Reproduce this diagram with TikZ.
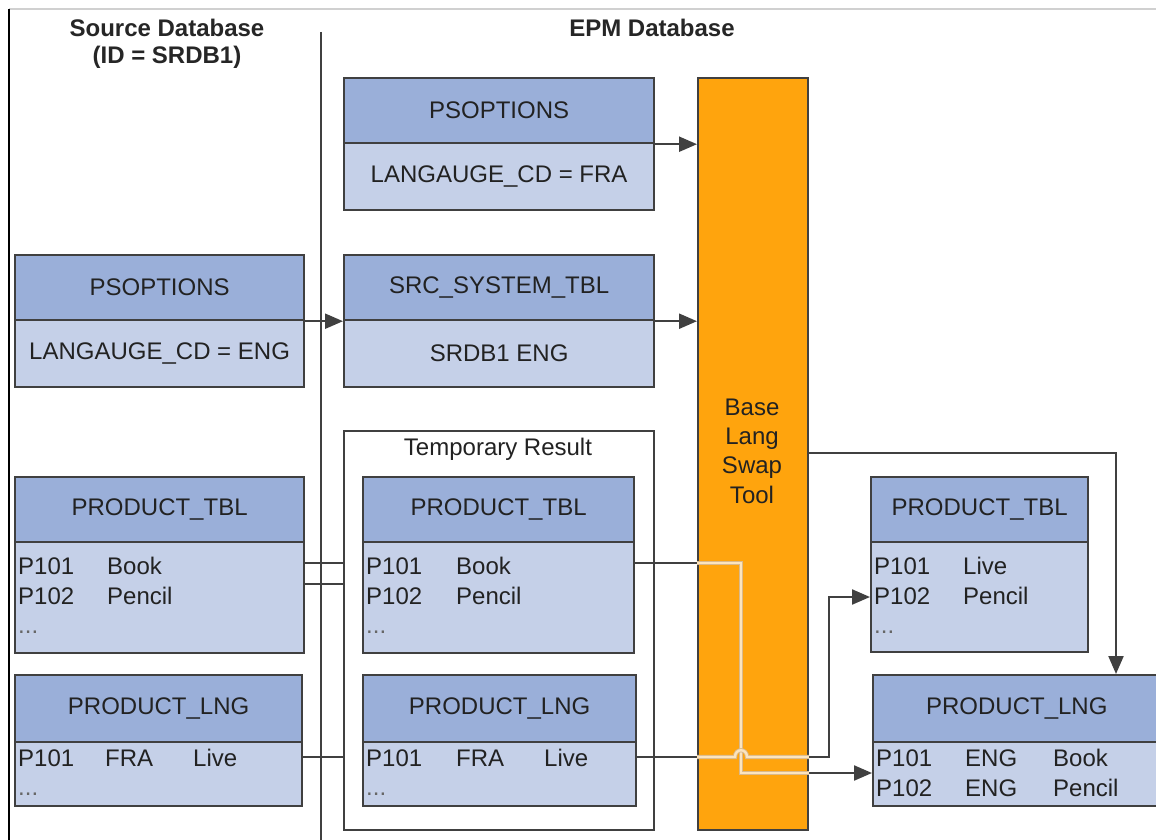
\documentclass[tikz,border=0pt]{standalone}
\usepackage{fontspec}
\setmainfont{Liberation Sans}
\usetikzlibrary{arrows.meta,calc}
\definecolor{hdr}{HTML}{9AAFD9}
\definecolor{bdy}{HTML}{C5D0E8}
\definecolor{edge}{HTML}{404040}
\definecolor{ink}{HTML}{222222}
\definecolor{orng}{HTML}{FFA40D}
\definecolor{pale}{HTML}{FCE4BE}
\definecolor{paleedge}{HTML}{D9B98C}
\definecolor{topline}{HTML}{D0D0D0}
\begin{document}
\begin{tikzpicture}[x=1pt,y=-1pt,
  every node/.style={font=\fontsize{24}{28}\selectfont, text=ink},
  hbox/.style={draw=edge, fill=hdr, line width=2.2pt, anchor=north west, inner sep=0pt},
  bbox/.style={draw=edge, fill=bdy, line width=2.2pt, anchor=north west, inner sep=0pt},
  cell/.style={anchor=base west, inner sep=0pt},
  dots/.style={anchor=base west, inner sep=0pt, text=black!60},
  heading/.style={font=\bfseries\fontsize{24}{28}\selectfont, text=black!85, inner sep=0pt},
  conn/.style={draw=edge, line width=2.2pt},
  arr/.style={conn, -{Triangle[length=18pt,width=15pt]}},
  paleout/.style={draw=paleedge, line width=4.2pt},
  palein/.style={draw=pale, line width=2.4pt}
]
\useasboundingbox (0,0) rectangle (1156,840);
\fill[white] (0,0) rectangle (1156,840);
% frame lines
\draw[topline, line width=1.5pt] (9,9) -- (1156,9);
\draw[black, line width=1.5pt] (9,9) -- (9,840);
\draw[edge, line width=2pt] (321,32) -- (321,840);
% headings
\node[heading] (hsrc1) at (167,28) {Source Database};
\node[heading] (hsrc2) at (167,57) {(ID = SRDB1)};
\node[heading] (hepm) at (652,28) {EPM Database};

% orange bar
\node[draw=edge, fill=orng, line width=2.2pt, anchor=north west, inner sep=0pt,
      minimum width=110pt, minimum height=752pt] (bar) at (697,77) {};
\node[align=center, font=\fontsize{24}{29.4}\selectfont] (barlbl) at (752,451) {Base\\Lang\\Swap\\Tool};

% temporary result box
\node[draw=edge, line width=2pt, anchor=north west, inner sep=0pt,
      minimum width=310pt, minimum height=399pt] (tmp) at (343,430) {};
\node (tmplbl) at (498,449) {Temporary Result};

% EPM PSOPTIONS
\node[hbox, minimum width=310pt, minimum height=65pt] (pso2h) at (343,77) {PSOPTIONS};
\node[bbox, minimum width=310pt, minimum height=67pt] (pso2b) at (343,142) {LANGAUGE\_CD = FRA};
% SRC_SYSTEM_TBL
\node[hbox, minimum width=310pt, minimum height=65pt] (srch) at (343,254) {SRC\_SYSTEM\_TBL};
\node[bbox, minimum width=310pt, minimum height=67pt] (srcb) at (343,319) {SRDB1 ENG};
% source PSOPTIONS
\node[hbox, minimum width=289pt, minimum height=65pt] (pso1h) at (14,254) {PSOPTIONS};
\node[bbox, minimum width=289pt, minimum height=67pt] (pso1b) at (14,319) {LANGAUGE\_CD = ENG};

% source PRODUCT_TBL
\node[hbox, minimum width=289pt, minimum height=65pt] (ptLh) at (14,476) {PRODUCT\_TBL};
\node[bbox, minimum width=289pt, minimum height=111pt] (ptLb) at (14,541) {};
\node[cell] (ptL1a) at (18,574) {P101};
\node[cell] (ptL1b) at (107,574) {Book};
\node[cell] (ptL2a) at (18,604) {P102};
\node[cell] (ptL2b) at (107,604) {Pencil};
\node[dots] (ptL3) at (18,633) {...};
% source PRODUCT_LNG
\node[hbox, minimum width=287pt, minimum height=67pt] (plLh) at (14,674) {PRODUCT\_LNG};
\node[bbox, minimum width=287pt, minimum height=64pt] (plLb) at (14,741) {};
\node[cell] (plL1a) at (18,766) {P101};
\node[cell] (plL1b) at (105,766) {FRA};
\node[cell] (plL1c) at (193,766) {Live};
\node[dots] (plL2) at (18,795) {...};

% temp PRODUCT_TBL
\node[hbox, minimum width=271pt, minimum height=65pt] (ptTh) at (362,476) {PRODUCT\_TBL};
\node[bbox, minimum width=271pt, minimum height=111pt] (ptTb) at (362,541) {};
\node[cell] (ptT1a) at (366,574) {P101};
\node[cell] (ptT1b) at (456,574) {Book};
\node[cell] (ptT2a) at (366,604) {P102};
\node[cell] (ptT2b) at (456,604) {Pencil};
\node[dots] (ptT3) at (366,633) {...};
% temp PRODUCT_LNG
\node[hbox, minimum width=273pt, minimum height=67pt] (plTh) at (362,674) {PRODUCT\_LNG};
\node[bbox, minimum width=273pt, minimum height=64pt] (plTb) at (362,741) {};
\node[cell] (plT1a) at (366,766) {P101};
\node[cell] (plT1b) at (456,766) {FRA};
\node[cell] (plT1c) at (544,766) {Live};
\node[dots] (plT2) at (366,795) {...};

% target PRODUCT_TBL
\node[hbox, minimum width=217pt, minimum height=65pt] (ptRh) at (870,476) {PRODUCT\_TBL};
\node[bbox, minimum width=217pt, minimum height=110pt] (ptRb) at (870,541) {};
\node[cell] (ptR1a) at (874,574) {P101};
\node[cell] (ptR1b) at (963,574) {Live};
\node[cell] (ptR2a) at (874,604) {P102};
\node[cell] (ptR2b) at (963,604) {Pencil};
\node[dots] (ptR3) at (874,633) {...};
% target PRODUCT_LNG (runs off the right edge)
\node[hbox, minimum width=293pt, minimum height=67pt, text width=285pt, align=left] (plRh) at (872,674) {\hspace*{49pt}PRODUCT\_LNG};
\node[bbox, minimum width=293pt, minimum height=64pt] (plRb) at (872,741) {};
\node[cell] (plR1a) at (876,766) {P101};
\node[cell] (plR1b) at (965,766) {ENG};
\node[cell] (plR1c) at (1053,766) {Book};
\node[cell] (plR2a) at (876,796) {P102};
\node[cell] (plR2b) at (965,796) {ENG};
\node[cell] (plR2c) at (1053,796) {Pencil};

% routing helpers
\coordinate (yA) at (0,563);
\coordinate (yB) at (0,584);
\coordinate (yC) at (0,757);
\coordinate (yD) at (0,773);
\coordinate (yE) at (0,597);
\coordinate (jx) at (741,0);
\coordinate (kx) at (829,0);
\coordinate (bend) at (1116,453);

% connectors
\draw[arr] (pso2h.south east) -- (bar.west |- pso2h.south east);
\draw[arr] (pso1h.south east) -- (srch.south west);
\draw[arr] (srch.south east) -- (bar.west |- srch.south east);
\draw[conn] (ptLb.east |- yA) -- (tmp.west |- yA);
\draw[conn] (ptLb.east |- yB) -- (tmp.west |- yB);
\draw[conn] (plLb.east |- yC) -- (tmp.west |- yC);
\draw[arr] (bar.east |- bend) -- (bend) -- (bend |- plRh.north);

% temp PRODUCT_TBL -> target PRODUCT_LNG
\draw[conn] (ptTb.east |- yA) -- (bar.west |- yA);
\draw[paleout] (bar.west |- yA) -- (jx |- yA) -- (jx |- yD) -- (bar.east |- yD);
\draw[palein] (bar.west |- yA) -- (jx |- yA) -- (jx |- yD) -- (bar.east |- yD);
\draw[arr] (bar.east |- yD) -- (plRb.west |- yD);

% temp PRODUCT_LNG -> target PRODUCT_TBL
\draw[conn] (plTb.east |- yC) -- (bar.west |- yC);
\draw[paleout] (bar.west |- yC) -- (735,757) .. controls (735,748) and (747,748) .. (747,757) -- (bar.east |- yC);
\draw[palein] (bar.west |- yC) -- (735,757) .. controls (735,748) and (747,748) .. (747,757) -- (bar.east |- yC);
\draw[arr] (bar.east |- yC) -- (kx |- yC) -- (kx |- yE) -- (ptRb.west |- yE);
\end{tikzpicture}
\end{document}
